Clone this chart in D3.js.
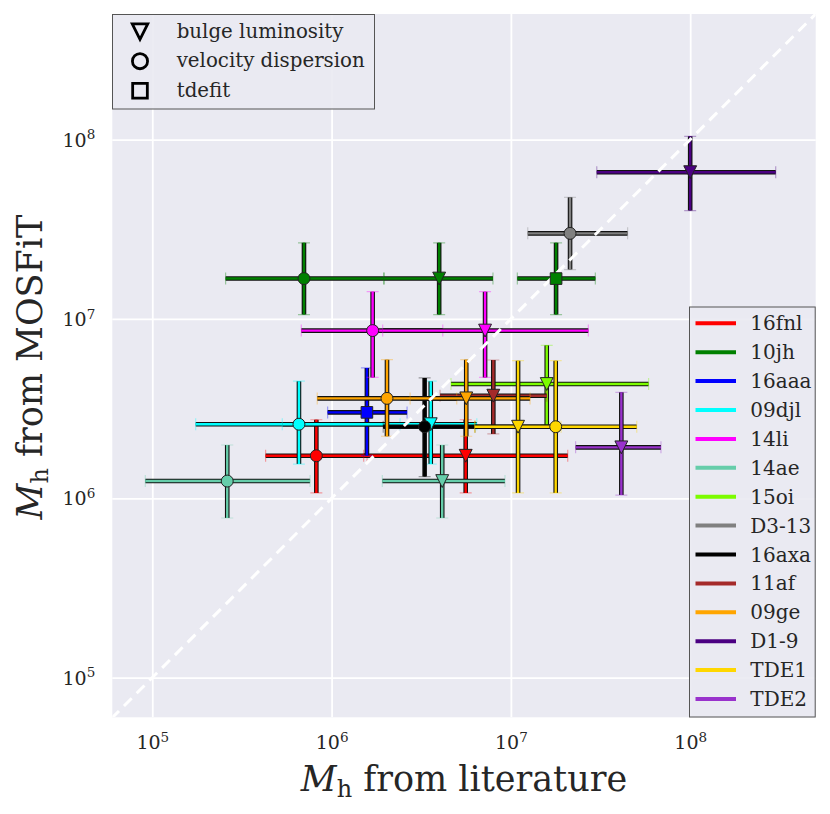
<!DOCTYPE html>
<html>
<head>
<meta charset="utf-8">
<script src="https://cdn.jsdelivr.net/npm/d3@7"></script>
<style>
  body { margin: 0; background: #fff; }
  text { font-family: "DejaVu Serif", serif; fill: #262626; }
</style>
</head>
<body>
<svg id="chart" width="830" height="814"></svg>
<script>
// events, colours and the MOSFiT masses (log10) with their bounds
const events = ['16fnl', '10jh', '16aaa', '09djl', '14li', '14ae', '15oi', 'D3-13', '16axa', '11af', '09ge', 'D1-9', 'TDE1', 'TDE2'];
const eventColors = ['#ff0000', '#008000', '#0000ff', '#00ffff', '#ff00ff', '#66cdaa', '#7cfc00', '#808080', '#000000', '#a52a2a', '#ffa500', '#4b0082', '#ffd700', '#9932cc'];
const mosfitLog = [6.237, 7.225, 6.479, 6.413, 6.935, 6.096, 6.637, 7.477, 6.399, 6.572, 6.557, 7.818, 6.399, 6.284];
const mosfitLo = [6.030, 7.024, 6.238, 6.191, 6.674, 5.890, 6.409, 7.275, 6.121, 6.359, 6.346, 7.604, 6.030, 6.018];
const mosfitHi = [6.438, 7.424, 6.727, 6.653, 7.152, 6.297, 6.853, 7.678, 6.671, 6.771, 6.773, 8.018, 6.767, 6.591];

// literature masses (log10), one entry per point
const litEvent = ['16fnl', '16fnl', '10jh', '10jh', '10jh', '16aaa', '09djl', '09djl', '14li', '14li', '14ae', '14ae',
  '15oi', 'D3-13', '16axa', '11af', '09ge', '09ge', 'D1-9', 'TDE1', 'TDE1', 'TDE2'];
const litMethod = ['velocity dispersion', 'bulge luminosity', 'velocity dispersion', 'bulge luminosity', 'tdefit',
  'tdefit', 'velocity dispersion', 'bulge luminosity', 'velocity dispersion', 'bulge luminosity',
  'velocity dispersion', 'bulge luminosity', 'bulge luminosity', 'velocity dispersion', 'velocity dispersion',
  'bulge luminosity', 'velocity dispersion', 'bulge luminosity', 'bulge luminosity', 'bulge luminosity',
  'velocity dispersion', 'bulge luminosity'];
const litLog = [5.915, 6.748, 5.846, 6.600, 7.252, 6.197, 5.818, 6.553, 6.229, 6.856, 5.418, 6.617,
  7.200, 7.330, 6.519, 6.902, 6.309, 6.751, 8.000, 7.040, 7.250, 7.616];
const litLo = [5.632, 6.179, 5.409, 6.292, 7.036, 5.978, 5.242, 5.725, 5.831, 6.285, 4.961, 6.283,
  6.666, 7.094, 6.288, 6.605, 5.920, 6.438, 7.479, 6.800, 6.798, 7.361];
const litHi = [6.198, 7.317, 6.292, 6.900, 7.471, 6.421, 6.382, 6.810, 6.620, 7.432, 5.880, 6.967,
  7.768, 7.651, 6.800, 7.200, 6.698, 7.107, 8.477, 7.280, 7.702, 7.837];

const methods = ['bulge luminosity', 'velocity dispersion', 'tdefit'];
const xTicks = [1e5, 1e6, 1e7, 1e8];
const yTicks = [1e5, 1e6, 1e7, 1e8];

const svg = d3.select('#chart');
const plot = { left: 112.3, top: 14, right: 815.7, bottom: 717.3 };

const x = d3.scaleLog().domain([10 ** 4.777, 10 ** 8.7]).range([plot.left, plot.right]);
const y = d3.scaleLog().domain([10 ** 4.779, 10 ** 8.7]).range([plot.bottom, plot.top]);

svg.append('rect')
  .attr('x', plot.left).attr('y', plot.top)
  .attr('width', plot.right - plot.left).attr('height', plot.bottom - plot.top)
  .attr('fill', '#eaeaf2');

svg.append('clipPath').attr('id', 'plot-clip')
  .append('rect')
  .attr('x', plot.left).attr('y', plot.top)
  .attr('width', plot.right - plot.left).attr('height', plot.bottom - plot.top);

// grid
const xGrid = svg.append('g')
  .attr('transform', `translate(0,${plot.bottom})`)
  .call(d3.axisBottom(x).tickValues(xTicks).tickSize(-(plot.bottom - plot.top)).tickFormat(''));
const yGrid = svg.append('g')
  .attr('transform', `translate(${plot.left},0)`)
  .call(d3.axisLeft(y).tickValues(yTicks).tickSize(-(plot.right - plot.left)).tickFormat(''));
[xGrid, yGrid].forEach((g) => {
  g.select('.domain').remove();
  g.selectAll('line').attr('stroke', '#fff').attr('stroke-width', 1.8);
});

// tick labels as 10^n
const powerLabel = function (d) {
  const t = d3.select(this);
  t.text(null).attr('dy', null);
  t.append('tspan').text('10');
  t.append('tspan').attr('dy', -7.5).attr('font-size', 13.5).text(Math.round(Math.log10(d)));
};

const xAxis = svg.append('g')
  .attr('transform', `translate(0,${plot.bottom})`)
  .call(d3.axisBottom(x).tickValues(xTicks).tickSize(0).tickPadding(0));
xAxis.select('.domain').remove();
xAxis.selectAll('.tick text').attr('y', 32).attr('font-size', 19).each(powerLabel);

const yAxis = svg.append('g')
  .attr('transform', `translate(${plot.left},0)`)
  .call(d3.axisLeft(y).tickValues(yTicks).tickSize(0).tickPadding(0));
yAxis.select('.domain').remove();
yAxis.selectAll('.tick text').attr('x', -17).attr('y', 6.7).attr('font-size', 19).each(powerLabel);

[xAxis, yAxis].forEach((g) => g.attr('font-family', 'DejaVu Serif').attr('color', '#262626'));

// marker shapes
const triDown = {
  draw(ctx, size) {
    const r = Math.sqrt(size) / 2;
    ctx.moveTo(-r, -r);
    ctx.lineTo(r, -r);
    ctx.lineTo(0, r);
    ctx.closePath();
  },
};
const shapeOf = { 'bulge luminosity': triDown, 'velocity dispersion': d3.symbolCircle, tdefit: d3.symbolSquare };
const sizeOf = { 'bulge luminosity': 165, 'velocity dispersion': 112, tdefit: 135 };

const pts = litEvent.map((e, i) => {
  const ev = events.indexOf(e);
  return {
    color: eventColors[ev],
    method: litMethod[i],
    cx: x(10 ** litLog[i]),
    cy: y(10 ** mosfitLog[ev]),
    x1: x(10 ** litLo[i]),
    x2: x(10 ** litHi[i]),
    y1: y(10 ** mosfitLo[ev]),
    y2: y(10 ** mosfitHi[ev]),
  };
});

const bars = (d) => `M${d.x1},${d.cy}H${d.x2}M${d.cx},${d.y1}V${d.y2}`;
const caps = (d) => `M${d.x1},${d.cy - 6}V${d.cy + 6}M${d.x2},${d.cy - 6}V${d.cy + 6}`
  + `M${d.cx - 6},${d.y1}H${d.cx + 6}M${d.cx - 6},${d.y2}H${d.cx + 6}`;

const barG = svg.append('g').attr('clip-path', 'url(#plot-clip)')
  .selectAll('g')
  .data(pts)
  .join('g');

barG.append('path')
  .attr('d', bars)
  .attr('fill', 'none')
  .attr('stroke', '#111')
  .attr('stroke-width', 4.6);

barG.append('path')
  .attr('d', bars)
  .attr('fill', 'none')
  .attr('stroke', d => d.color)
  .attr('stroke-width', 2.4);

barG.append('path')
  .attr('d', caps)
  .attr('fill', 'none')
  .attr('stroke', d => d.color)
  .attr('stroke-opacity', 0.35)
  .attr('stroke-width', 1.2);

// one-to-one line
svg.append('line')
  .attr('clip-path', 'url(#plot-clip)')
  .attr('x1', x(10 ** 4.7)).attr('y1', y(10 ** 4.7))
  .attr('x2', x(10 ** 8.8)).attr('y2', y(10 ** 8.8))
  .attr('stroke', '#fff')
  .attr('stroke-width', 3)
  .attr('stroke-dasharray', '11,7');

svg.append('g')
  .selectAll('path')
  .data(pts)
  .join('path')
  .attr('transform', d => `translate(${d.cx},${d.cy})`)
  .attr('d', d => d3.symbol(shapeOf[d.method], sizeOf[d.method])())
  .attr('fill', d => d.color)
  .attr('stroke', '#222')
  .attr('stroke-width', 1);

// method legend
const leg1 = svg.append('g');
leg1.append('rect')
  .attr('x', 112.5).attr('y', 14.5).attr('width', 262).attr('height', 94.5)
  .attr('fill', '#eaeaf2').attr('fill-opacity', 0.9)
  .attr('stroke', '#555').attr('stroke-width', 1);
const leg1Size = { 'bulge luminosity': 240, 'velocity dispersion': 180, tdefit: 215 };
methods.forEach((m, i) => {
  const yy = 31.7 + i * 29.5;
  leg1.append('path')
    .attr('transform', `translate(140,${yy})`)
    .attr('d', d3.symbol(shapeOf[m], leg1Size[m])())
    .attr('fill', 'none')
    .attr('stroke', '#000')
    .attr('stroke-width', 2.8);
  leg1.append('text')
    .attr('x', 176.7).attr('y', yy + 6)
    .attr('font-size', 19.8)
    .text(m);
});

// event legend
const leg2 = svg.append('g');
leg2.append('rect')
  .attr('x', 689.5).attr('y', 307).attr('width', 125.7).attr('height', 410)
  .attr('fill', '#eaeaf2').attr('fill-opacity', 0.9)
  .attr('stroke', '#555').attr('stroke-width', 1);
events.forEach((e, i) => {
  const yy = 323.3 + i * 28.9;
  leg2.append('line')
    .attr('x1', 695.5).attr('x2', 736).attr('y1', yy).attr('y2', yy)
    .attr('stroke', eventColors[i]).attr('stroke-width', 4);
  leg2.append('text')
    .attr('x', 750.3).attr('y', yy + 7)
    .attr('font-size', 20)
    .text(e);
});

// axis titles
const xTitle = svg.append('text')
  .attr('x', 464).attr('y', 791)
  .attr('text-anchor', 'middle')
  .attr('font-size', 35);
xTitle.append('tspan').attr('font-style', 'italic').text('M');
xTitle.append('tspan').attr('font-size', 24).attr('dy', 6).text('h');
xTitle.append('tspan').attr('dy', -6).text(' from literature');

const yTitle = svg.append('text')
  .attr('transform', 'translate(42,367) rotate(-90)')
  .attr('text-anchor', 'middle')
  .attr('font-size', 35);
yTitle.append('tspan').attr('font-style', 'italic').text('M');
yTitle.append('tspan').attr('font-size', 24).attr('dy', 6).text('h');
yTitle.append('tspan').attr('dy', -6).text(' from MOSFiT');
</script>
</body>
</html>
